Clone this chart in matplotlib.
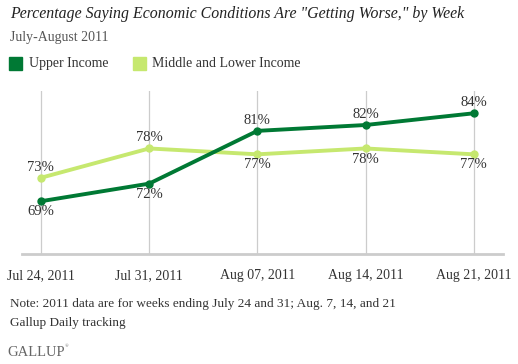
import matplotlib
matplotlib.use("Agg")
import matplotlib.pyplot as plt
from matplotlib.patches import Rectangle

weeks = ["Jul 24, 2011", "Jul 31, 2011", "Aug 07, 2011", "Aug 14, 2011", "Aug 21, 2011"]
upper = [69, 72, 81, 82, 84]
middle_lower = [73, 78, 77, 78, 77]
upper_label_pos = ["below", "below", "above", "above", "above"]
middle_label_pos = ["above", "above", "below", "below", "below"]

DARK = "#007934"
LIGHT = "#c6e86f"
TXT = "#333333"
FONT = "Liberation Serif"

fig = plt.figure(figsize=(5.18, 3.64), dpi=100)
ax = fig.add_axes([22/518, 1-254/364, (503-22)/518, (254-91)/364])
x = list(range(len(weeks)))
ax.set_xlim(-0.175, 4.27)
ax.set_ylim(60, 87.8)

for xi in x:
    ax.axvline(xi, color="#cccccc", lw=0.9, zorder=0)

ax.plot(x, middle_lower, color=LIGHT, lw=2.8, marker="o", ms=5, zorder=2)
ax.plot(x, upper, color=DARK, lw=2.8, marker="o", ms=5, zorder=3)

def label(vals, pos):
    for xi, v, p in zip(x, vals, pos):
        off = 3 if p == "above" else -3
        ax.annotate(f"{v}%", (xi, v), xytext=(0, off), textcoords="offset points",
                    ha="center", va="bottom" if p == "above" else "top",
                    fontsize=10.5, color=TXT, family=FONT, zorder=5)

label(upper, upper_label_pos)
label(middle_lower, middle_label_pos)

for s in ["top", "right", "left"]:
    ax.spines[s].set_visible(False)
ax.spines["bottom"].set_color("#cccccc")
ax.spines["bottom"].set_linewidth(2)
ax.set_yticks([])
ax.set_xticks(x)
ax.set_xticklabels(weeks, family=FONT, fontsize=10, color=TXT)
ax.tick_params(axis="x", length=0, pad=11)

fig.text(10/518, 1-14/364, 'Percentage Saying Economic Conditions Are "Getting Worse," by Week',
         family=FONT, style="italic", fontsize=11.4, color="#222222", va="center")
fig.text(10/518, 1-38/364, "July-August 2011", family=FONT, fontsize=10, color="#555555", va="center")

fig.patches.append(Rectangle((9/518, 1-70/364), 13/518, 13/364, transform=fig.transFigure,
                             color=DARK, figure=fig))
fig.text(29/518, 1-63.5/364, "Upper Income", family=FONT, fontsize=10, color=TXT, va="center")
fig.patches.append(Rectangle((133/518, 1-70/364), 13/518, 13/364, transform=fig.transFigure,
                             color=LIGHT, figure=fig))
fig.text(152/518, 1-63.5/364, "Middle and Lower Income", family=FONT, fontsize=10, color=TXT, va="center")

fig.text(10/518, 1-304/364, "Note: 2011 data are for weeks ending July 24 and 31; Aug. 7, 14, and 21",
         family=FONT, fontsize=9.5, color=TXT, va="center")
fig.text(10/518, 1-323/364, "Gallup Daily tracking", family=FONT, fontsize=9.5, color=TXT, va="center")
fig.text(7/518, 1-352/364, "GALLUP", family=FONT, fontsize=10.5, color="#666666", va="center")
fig.text(64.5/518, 1-346/364, "\u00ae", family=FONT, fontsize=3.5, color="#666666", va="center")

fig.savefig("out.png", dpi=100)
